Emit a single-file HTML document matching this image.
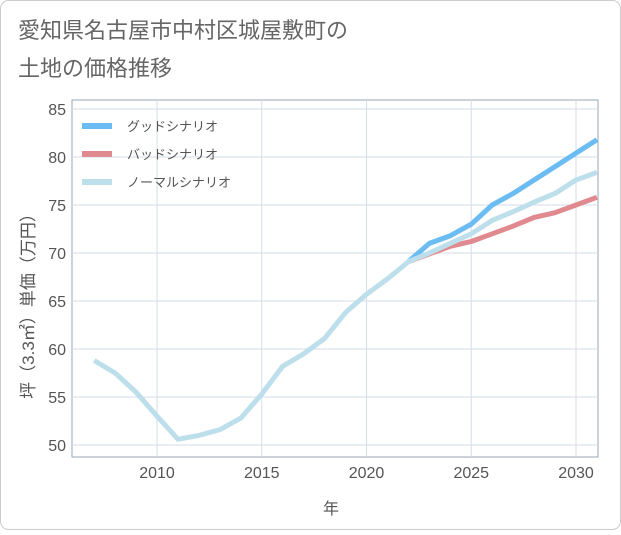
<!DOCTYPE html>
<html><head><meta charset="utf-8"><style>
body{margin:0;background:#fff;}
#wrap{width:621px;height:530px;position:relative;font-family:"Liberation Sans","Noto Sans CJK JP",sans-serif;}
</style></head><body>
<div id="wrap">
<svg id="chart" width="621" height="530">
<rect x="0.5" y="0.5" width="620" height="529" rx="8" fill="#fff" stroke="#ccc"/>
<text x="18" y="38" font-size="22" fill="#666">愛知県名古屋市中村区城屋敷町の</text>
<text x="18" y="76" font-size="22" fill="#666">土地の価格推移</text>
<g id="grid"></g>
<g id="series"></g>
<g id="legend"></g>
<text x="331" y="514" font-size="16" fill="#555" text-anchor="middle">年</text>
<text transform="translate(34,302) rotate(-90)" font-size="17" fill="#555" text-anchor="middle">坪（3.3㎡）単価（万円）</text>
</svg>
</div>
<script>
const years=[2007,2008,2009,2010,2011,2012,2013,2014,2015,2016,2017,2018,2019,2020,2021,2022,2023,2024,2025,2026,2027,2028,2029,2030,2031];
const normal=[58.8,57.5,55.5,53,50.6,51,51.6,52.8,55.3,58.2,59.5,61.1,63.8,65.7,67.3,69.1,70,71,72,73.4,74.3,75.3,76.2,77.6,78.4];
const fYears=[2022,2023,2024,2025,2026,2027,2028,2029,2030,2031];
const good=[69.1,71,71.8,73,75,76.2,77.6,79,80.4,81.8];
const bad=[69.1,69.9,70.7,71.2,72,72.8,73.7,74.2,75,75.8];
const xTicks=[2010,2015,2020,2025,2030];
const yTicks=[50,55,60,65,70,75,80,85];
const L=72,R=598,T=100,B=457;
const X=y=>157+(y-2010)*20.95;
const Y=v=>445-(v-50)*9.6;
const NS="http://www.w3.org/2000/svg";
function mk(t,a,p){const e=document.createElementNS(NS,t);for(const k in a)e.setAttribute(k,a[k]);p.appendChild(e);return e;}
const g=document.getElementById('grid');
const bg=mk('rect',{x:L,y:T,width:R-L,height:B-T,fill:'#fff',stroke:'#9aa6b4'},g);


xTicks.forEach(t=>{
 const l=mk('line',{x1:X(t),x2:X(t),y1:T,y2:B,stroke:'#d3dde8'},g);
 
 
 const tx=mk('text',{x:X(t),y:478,'font-size':16,fill:'#555','text-anchor':'middle'},g);tx.textContent=t;
 
 
});
yTicks.forEach(t=>{
 const l=mk('line',{x1:L,x2:R,y1:Y(t),y2:Y(t),stroke:'#d3dde8'},g);
 
 
 const tx=mk('text',{x:66,y:Y(t)+6,'font-size':16,fill:'#555','text-anchor':'end'},g);tx.textContent=t;
 
 
});
const s=document.getElementById('series');
function line(xs,vs,c,name){
 const p=mk('polyline',{points:xs.map((x,i)=>X(x)+','+Y(vs[i])).join(' '),fill:'none',stroke:c,'stroke-width':5,'stroke-linejoin':'round'},s);
 
 
}
line(fYears,bad,'#e08a90','bad-scenario-line');
line(fYears,good,'#6bbcf2','good-scenario-line');
line(years,normal,'#bddfeb','normal-scenario-line');
const lg=document.getElementById('legend');
[['グッドシナリオ','#6bbcf2','legend-good'],['バッドシナリオ','#e08a90','legend-bad'],['ノーマルシナリオ','#bddfeb','legend-normal']].forEach((d,i)=>{
 const y=126+i*28;
 const r=mk('rect',{x:82,y:y-3,width:30,height:6,fill:d[1]},lg);
 
 
 const t=mk('text',{x:127,y:y+5,'font-size':13,fill:'#555'},lg);t.textContent=d[0];
 
 
});
</script>
</body></html>
